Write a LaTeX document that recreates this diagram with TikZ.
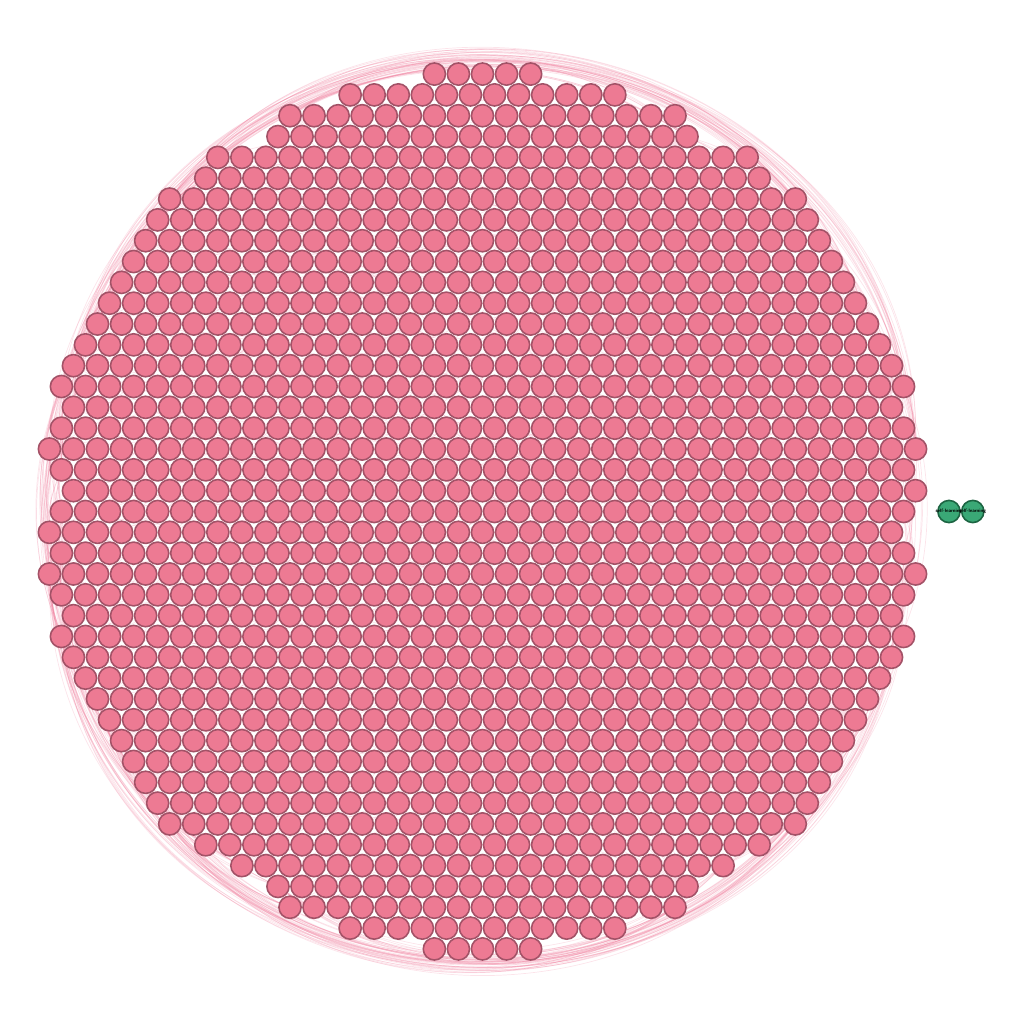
\documentclass[tikz,border=0pt]{standalone}
\usepackage{tikz}
\usetikzlibrary{positioning,backgrounds}

\definecolor{petal}{RGB}{237,122,147}
\definecolor{petalline}{RGB}{163,82,103}
\definecolor{linkpink}{RGB}{238,120,152}
\definecolor{mint}{RGB}{58,168,118}
\definecolor{mintline}{RGB}{28,100,66}

\begin{document}
\begin{tikzpicture}[
    topic/.style={circle, draw=petalline, fill=petal, line width=0.45pt,
                  minimum size=2.22mm, inner sep=0pt},
    seed/.style={circle, draw=mintline, fill=mint, line width=0.45pt,
                 minimum size=2.22mm, inner sep=0pt},
    seedlabel/.style={inner sep=0pt, font=\fontsize{1.4}{1.6}\selectfont\sffamily\bfseries},
    link/.style={draw=linkpink, draw opacity=0.2, line width=0.2pt}
]
\def\dx{0.2406}
\def\dy{0.2083}
\pgfmathsetseed{7}
\useasboundingbox (-4.825,-5.125) rectangle (5.415,5.115);

% packed circle, one row at a time: row / left extent / right extent
\foreach \j/\a/\b in {-21/2/2, -20/5.5/5.5, -19/8/8, -18/8.5/8.5, -17/11/11,
    -16/11.5/11.5, -15/13/13, -14/13.5/13.5, -13/14/14, -12/14.5/14.5,
    -11/15/15, -10/15.5/15.5, -9/16/16, -8/16.5/16.5, -7/17/17,
    -6/17.5/17.5, -5/17/17, -4/17.5/17.5, -3/18/18, -2/17.5/17.5,
    -1/17/18, 0/17.5/17.5, 1/18/17, 2/17.5/17.5, 3/18/18,
    4/17.5/17.5, 5/17/17, 6/17.5/17.5, 7/17/17, 8/16.5/16.5,
    9/16/16, 10/15.5/15.5, 11/15/15, 12/14.5/14.5, 13/14/14,
    14/13.5/13.5, 15/13/13, 16/11.5/11.5, 17/10/10, 18/8.5/8.5,
    19/8/8, 20/5.5/5.5, 21/2/2}{
    \pgfmathtruncatemacro\n{\a+\b}
    \expandafter\xdef\csname rn\j\endcsname{\n}
    \foreach \i in {0,...,\n}
        \node[topic] (r\j-\i) at ({(\i-\a)*\dx},{-\j*\dy}) {};
}

\node[seed, label={[seedlabel]center:self-learning}] (sl1) at (4.665,0) {};
\node[seed, label={[seedlabel]center:self-learning}, right=0pt of sl1] (sl2) {};

\begin{scope}[on background layer]
% left flank
\foreach \j in {-17,-16,...,16}{
    \foreach \k in {3,5,8,11,15}{
        \pgfmathtruncatemacro\m{\j+\k}
        \ifnum\m<20
            \pgfmathsetmacro\sw{asin((\m)/21.12)-asin((\j)/21.12)}
            \pgfmathsetmacro\bnd{\sw/2+1+9*rnd}
            \pgfmathsetmacro\lo{(2/3)*tan(\sw/4)/sin(\sw/2)/0.3915}
            \draw[link] (r\j-0) to[bend right=\bnd, looseness=\lo] (r\m-0);
        \fi
    }
}
% right flank
\foreach \j in {-18,-16,...,14}{
    \foreach \k in {3,6,9,13}{
        \pgfmathtruncatemacro\m{\j+\k}
        \ifnum\m<20
            \pgfmathsetmacro\sw{asin((\m)/21.12)-asin((\j)/21.12)}
            \pgfmathsetmacro\bnd{\sw/2+1+6*rnd}
            \pgfmathsetmacro\lo{(2/3)*tan(\sw/4)/sin(\sw/2)/0.3915}
            \edef\tailn{\csname rn\j\endcsname}
            \edef\headn{\csname rn\m\endcsname}
            \draw[link] (r\j-\tailn) to[bend left=\bnd, looseness=\lo] (r\m-\headn);
        \fi
    }
}
% over the top
\foreach \j in {-19,-17,...,-5}{
    \foreach \m in {-18,-15,...,-3}{
        \pgfmathsetmacro\sw{180-asin(-(\j)/21.12)-asin(-(\m)/21.12)}
        \pgfmathsetmacro\bnd{\sw/2+1+8*rnd}
        \pgfmathsetmacro\lo{(2/3)*tan(\sw/4)/sin(\sw/2)/0.3915}
        \edef\headn{\csname rn\m\endcsname}
        \draw[link] (r\j-0) to[bend left=\bnd, looseness=\lo] (r\m-\headn);
    }
}
% under the bottom
\foreach \j in {5,7,...,19}{
    \foreach \m in {3,6,...,18}{
        \pgfmathsetmacro\sw{180-asin((\j)/21.12)-asin((\m)/21.12)}
        \pgfmathsetmacro\bnd{\sw/2+1+8*rnd}
        \pgfmathsetmacro\lo{(2/3)*tan(\sw/4)/sin(\sw/2)/0.3915}
        \edef\tailn{\csname rn\j\endcsname}
        \draw[link] (r\j-\tailn) to[bend left=\bnd, looseness=\lo] (r\m-0);
    }
}
% across the middle
\foreach \j in {-19,-17,...,19}{
    \foreach \m in {-18,-14,...,18}{
        \edef\headn{\csname rn\m\endcsname}
        \draw[link] (r\j-0) to[bend left=12] (r\m-\headn);
    }
}
\end{scope}
\end{tikzpicture}
\end{document}
